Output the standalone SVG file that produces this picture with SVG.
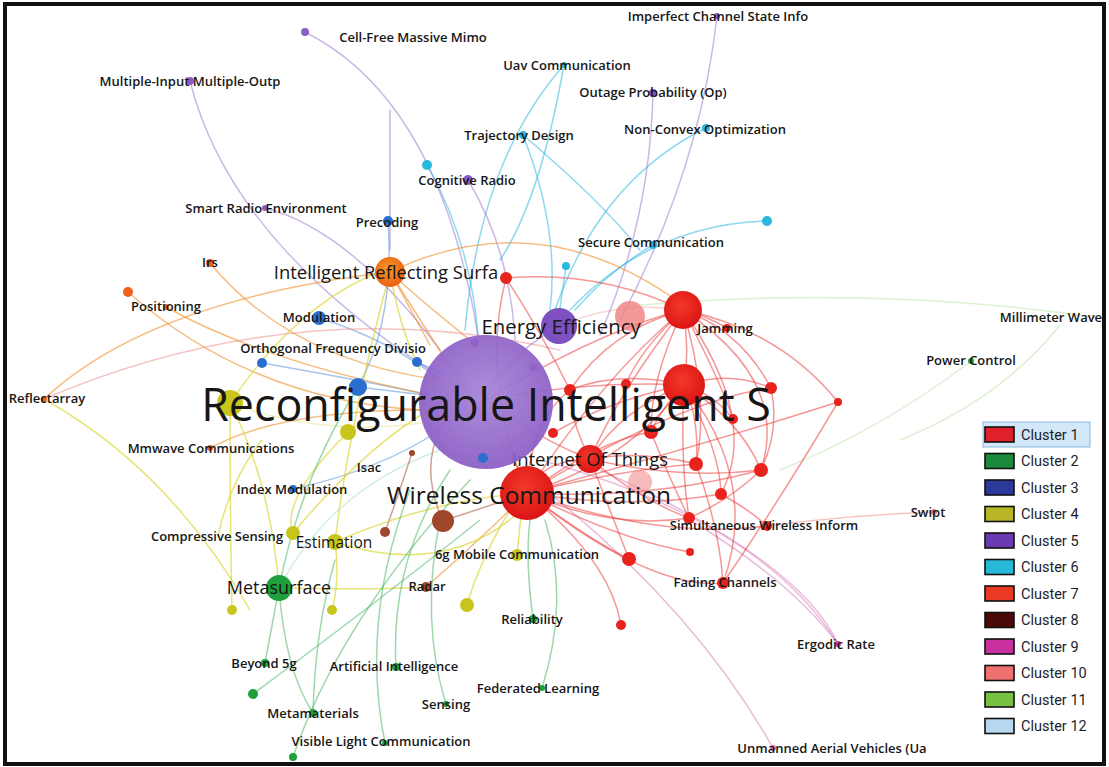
<svg xmlns="http://www.w3.org/2000/svg" width="1109" height="767" viewBox="0 0 1109 767">
  <defs>
    <radialGradient id="gPurpleBig" cx="50%" cy="45%" r="55%">
      <stop offset="0" stop-color="#a684d8"/>
      <stop offset="1" stop-color="#8a5cc4"/>
    </radialGradient>
    <radialGradient id="gOrange" cx="45%" cy="40%" r="60%">
      <stop offset="0" stop-color="#f79a2a"/>
      <stop offset="1" stop-color="#ea5e10"/>
    </radialGradient>
    <radialGradient id="gRed" cx="45%" cy="40%" r="60%">
      <stop offset="0" stop-color="#f23a2a"/>
      <stop offset="1" stop-color="#dc1414"/>
    </radialGradient>
    <style>
      text{font-family:"Open Sans","DejaVu Sans",sans-serif;fill:#161616;dominant-baseline:central;text-anchor:middle}
      .s{font-size:13px;font-weight:600}
      .lg{font-family:Roboto,"Open Sans",sans-serif;font-size:14.5px;text-anchor:start;fill:#1c1c2c}
      .c path{fill:none;stroke-width:1.5;stroke-linecap:round}
      .k1{stroke:#ec3030;opacity:.5}
      .k2{stroke:#2aa84a;opacity:.45}
      .k3{stroke:#3a7fd0;opacity:.45}
      .k4{stroke:#d6d21c;opacity:.6}
      .k5{stroke:#a07ed0;opacity:.55}
      .k6{stroke:#30b8e0;opacity:.55}
      .k7{stroke:#f0902a;opacity:.6}
      .k8{stroke:#a0442a;opacity:.5}
      .k9{stroke:#d878b8;opacity:.5}
      .k10{stroke:#f08888;opacity:.5}
      .k11{stroke:#9ed07a;opacity:.35}
      .red{fill:#e8221c}
      .grn{fill:#1ea03c}
      .blu{fill:#2a6fd0}
      .yel{fill:#c8c61c}
      .pur{fill:#8a5cc4}
      .cya{fill:#28b8e0}
      .org{fill:#f0601a}
      .brn{fill:#a0462a}
      .sw{stroke:#111;stroke-width:1.6}
    </style>
  </defs>

  <rect x="0" y="0" width="1109" height="767" fill="#ffffff"/>

  <!-- links between keywords -->
  <g id="connectors" class="c">
    <!-- wide translucent bundles -->
    <path d="M559,326 Q620,300 683,310" stroke="#f08080" stroke-width="10" opacity=".35"/>
    <path d="M230,403 Q330,440 440,420" stroke="#d8d850" stroke-width="7" opacity=".35"/>
    <path d="M279,588 Q330,490 440,450" stroke="#6cc8a0" stroke-width="6" opacity=".3"/>

    <!-- cluster 5 -->
    <path class="k5" d="M305,32 Q440,100 478,336"/>
    <path class="k5" d="M190,81 Q230,240 430,370"/>
    <path class="k5" d="M265,208 Q350,230 440,350"/>
    <path class="k5" d="M468,180 Q510,250 515,340"/>
    <path class="k5" d="M717,16 Q700,170 620,320"/>
    <path class="k5" d="M653,93 Q650,220 600,335"/>
    <path class="k5" d="M390,110 L390,250" opacity=".3"/>
    <path class="k5" d="M559,326 Q500,360 486,400"/>

    <!-- cluster 6 -->
    <path class="k6" d="M564,65 Q480,160 465,330"/>
    <path class="k6" d="M564,65 Q540,200 500,260"/>
    <path class="k6" d="M523,135 Q560,230 550,310"/>
    <path class="k6" d="M523,135 Q600,200 640,250"/>
    <path class="k6" d="M706,128 Q600,180 555,310"/>
    <path class="k6" d="M427,165 Q470,240 478,335"/>
    <path class="k6" d="M767,221 Q650,225 570,310"/>
    <path class="k6" d="M566,266 L560,308"/>
    <path class="k6" d="M653,245 Q610,270 575,310"/>

    <!-- cluster 3 -->
    <path class="k3" d="M388,221 Q395,320 358,387"/>
    <path class="k3" d="M319,318 Q390,340 440,380"/>
    <path class="k3" d="M262,363 Q360,380 430,395"/>
    <path class="k3" d="M417,362 L445,375"/>
    <path class="k3" d="M293,489 Q380,470 440,430"/>
    <path class="k3" d="M358,387 L425,395"/>

    <!-- cluster 7 -->
    <path class="k7" d="M390,272 Q540,200 683,305"/>
    <path class="k7" d="M210,263 Q290,360 440,380"/>
    <path class="k7" d="M166,307 Q260,360 430,395"/>
    <path class="k7" d="M128,292 Q250,400 420,410"/>
    <path class="k7" d="M44,399 Q150,300 390,272"/>
    <path class="k7" d="M210,448 Q280,410 425,410"/>
    <path class="k7" d="M390,272 L430,345"/>
    <path class="k7" d="M390,272 Q420,300 470,340"/>
    <path class="k7" d="M390,272 Q470,400 527,480"/>
    <path class="k7" d="M426,587 Q480,540 527,493"/>
    <path class="k10" d="M44,399 Q300,290 560,350" opacity=".35"/>

    <!-- cluster 8 -->
    <path class="k8" d="M443,521 Q420,470 440,430"/>
    <path class="k8" d="M443,521 L527,493"/>
    <path class="k8" d="M385,532 Q400,490 412,453"/>

    <!-- cluster 4 -->
    <path class="k4" d="M44,399 Q170,470 250,610"/>
    <path class="k4" d="M230,403 Q300,300 385,270"/>
    <path class="k4" d="M230,403 Q230,520 232,610"/>
    <path class="k4" d="M230,403 Q270,480 279,588"/>
    <path class="k4" d="M348,432 Q280,500 293,533"/>
    <path class="k4" d="M293,533 Q380,430 450,400"/>
    <path class="k4" d="M335,542 Q430,500 527,493"/>
    <path class="k4" d="M335,542 Q340,580 332,610"/>
    <path class="k4" d="M335,542 Q450,580 527,505"/>
    <path class="k4" d="M467,605 Q480,560 510,510"/>
    <path class="k4" d="M517,555 Q520,525 522,505"/>
    <path class="k4" d="M390,272 Q350,420 335,542"/>
    <path class="k4" d="M390,272 Q400,330 420,370"/>
    <path class="k4" d="M218,536 Q230,480 262,440"/>
    <path class="k4" d="M279,588 Q380,590 426,587"/>

    <!-- cluster 2 -->
    <path class="k2" d="M279,588 L265,663"/>
    <path class="k2" d="M279,588 Q285,670 313,713"/>
    <path class="k2" d="M253,694 Q380,600 480,520"/>
    <path class="k2" d="M396,667 Q390,560 450,470"/>
    <path class="k2" d="M446,704 Q420,620 440,520"/>
    <path class="k2" d="M542,688 Q570,600 545,520"/>
    <path class="k2" d="M533,619 Q525,560 530,520"/>
    <path class="k2" d="M385,743 Q360,620 410,490"/>
    <path class="k2" d="M293,757 Q340,620 470,480"/>
    <path class="k2" d="M313,713 Q315,630 335,560"/>
    <path class="k2" d="M279,588 Q300,480 358,387"/>

    <!-- cluster 11 -->
    <path class="k11" d="M640,305 Q880,285 1100,318"/>
    <path class="k11" d="M970,362 Q880,430 780,470"/>
    <path class="k11" d="M1060,325 Q1000,400 900,440"/>

    <!-- cluster 9 -->
    <path class="k9" d="M540,460 Q760,520 838,644"/>
    <path class="k9" d="M520,470 Q690,600 773,748"/>
    <path class="k9" d="M600,470 Q800,560 838,644"/>
    <path class="k9" d="M690,520 Q790,580 838,644"/>
    <path class="k10" d="M767,526 Q850,515 934,512"/>

    <!-- cluster 1 -->
    <path class="k1" d="M486,400 Q600,330 683,310"/>
    <path class="k1" d="M486,400 Q590,380 684,385"/>
    <path class="k1" d="M486,400 Q540,440 590,459"/>
    <path class="k1" d="M527,493 Q600,380 683,310"/>
    <path class="k1" d="M527,493 Q630,460 684,385"/>
    <path class="k1" d="M527,493 Q540,460 590,459"/>
    <path class="k1" d="M527,493 Q480,380 506,278"/>
    <path class="k1" d="M527,493 Q530,420 570,390"/>
    <path class="k1" d="M527,493 Q600,440 651,432"/>
    <path class="k1" d="M527,493 Q620,470 696,464"/>
    <path class="k1" d="M527,493 Q650,500 761,470"/>
    <path class="k1" d="M527,493 Q630,510 721,494"/>
    <path class="k1" d="M527,493 Q610,530 689,518"/>
    <path class="k1" d="M527,493 Q590,540 629,559"/>
    <path class="k1" d="M527,493 Q620,540 690,552"/>
    <path class="k1" d="M527,493 Q610,560 621,625"/>
    <path class="k1" d="M527,493 Q650,590 723,583"/>
    <path class="k1" d="M527,493 Q660,540 767,526"/>
    <path class="k1" d="M527,493 Q720,440 838,402"/>
    <path class="k1" d="M527,493 Q680,400 771,388"/>
    <path class="k1" d="M683,310 Q690,350 684,385"/>
    <path class="k1" d="M683,310 Q600,270 506,278"/>
    <path class="k1" d="M683,310 Q610,330 570,390"/>
    <path class="k1" d="M683,310 Q640,350 626,384"/>
    <path class="k1" d="M683,310 Q740,330 771,388"/>
    <path class="k1" d="M683,310 Q720,380 733,419"/>
    <path class="k1" d="M683,310 Q650,380 651,432"/>
    <path class="k1" d="M683,310 Q710,400 696,464"/>
    <path class="k1" d="M683,310 Q790,380 761,470"/>
    <path class="k1" d="M683,310 Q705,315 727,328"/>
    <path class="k1" d="M683,310 Q780,330 838,402"/>
    <path class="k1" d="M683,310 Q620,390 590,459"/>
    <path class="k1" d="M683,310 Q760,420 721,494"/>
    <path class="k1" d="M684,385 Q620,370 570,390"/>
    <path class="k1" d="M684,385 Q730,370 771,388"/>
    <path class="k1" d="M684,385 Q715,395 733,419"/>
    <path class="k1" d="M684,385 Q660,410 651,432"/>
    <path class="k1" d="M684,385 Q700,420 696,464"/>
    <path class="k1" d="M684,385 Q740,420 761,470"/>
    <path class="k1" d="M684,385 Q720,450 721,494"/>
    <path class="k1" d="M684,385 Q680,460 689,518"/>
    <path class="k1" d="M684,385 Q760,480 723,583"/>
    <path class="k1" d="M684,385 Q620,410 590,459"/>
    <path class="k1" d="M684,385 Q610,400 553,433"/>
    <path class="k1" d="M590,459 Q640,450 696,464"/>
    <path class="k1" d="M590,459 Q680,480 761,470"/>
    <path class="k1" d="M590,459 Q610,510 629,559"/>
    <path class="k1" d="M590,459 Q640,500 689,518"/>
    <path class="k1" d="M590,459 Q570,420 570,390"/>
    <path class="k1" d="M506,278 Q540,330 570,390"/>
    <path class="k1" d="M651,432 Q670,480 689,518"/>
    <path class="k1" d="M761,470 Q730,500 689,518"/>
    <path class="k1" d="M771,388 Q780,430 761,470"/>
    <path class="k1" d="M696,464 Q720,530 723,583"/>
    <path class="k1" d="M721,494 Q750,510 767,526"/>
    <path class="k1" d="M838,402 Q780,500 723,583"/>
  </g>

  <!-- keyword nodes -->
  <g id="nodes">
    <g id="n-imperfect-csi"><circle class="pur" cx="717" cy="16" r="3"/><text class="s" x="718" y="16" font-size="12">Imperfect Channel State Info</text></g>
    <g id="n-cell-free"><circle class="pur" cx="305" cy="32" r="4"/><text class="s" x="413" y="37">Cell-Free Massive Mimo</text></g>
    <g id="n-mimo"><circle class="pur" cx="190" cy="81" r="4"/><text class="s" x="190" y="81">Multiple-Input Multiple-Outp</text></g>
    <g id="n-uav-comm"><circle class="cya" cx="564" cy="65" r="3"/><text class="s" x="567" y="65">Uav Communication</text></g>
    <g id="n-outage"><circle class="pur" cx="653" cy="93" r="4"/><text class="s" x="653" y="92">Outage Probability (Op)</text></g>
    <g id="n-trajectory"><circle class="cya" cx="523" cy="135" r="4"/><text class="s" x="519" y="135">Trajectory Design</text></g>
    <g id="n-non-convex"><circle class="cya" cx="706" cy="128" r="4"/><text class="s" x="705" y="129">Non-Convex Optimization</text></g>
    <g id="n-cyan-a"><circle class="cya" cx="427" cy="165" r="5"/></g>
    <g id="n-cognitive"><circle class="pur" cx="468" cy="180" r="5"/><text class="s" x="467" y="180">Cognitive Radio</text></g>
    <g id="n-smart-radio"><circle class="pur" cx="265" cy="208" r="3"/><text class="s" x="266" y="208">Smart Radio Environment</text></g>
    <g id="n-precoding"><circle class="blu" cx="388" cy="221" r="5"/><text class="s" x="387" y="222">Precoding</text></g>
    <g id="n-cyan-b"><circle class="cya" cx="767" cy="221" r="5"/></g>
    <g id="n-secure"><circle class="cya" cx="653" cy="245" r="4"/><text class="s" x="651" y="242">Secure Communication</text></g>
    <g id="n-cyan-c"><circle class="cya" cx="566" cy="266" r="4"/></g>
    <g id="n-irs"><circle class="org" cx="210" cy="263" r="4"/><text class="s" x="210" y="262">Irs</text></g>
    <g id="n-org-a"><circle class="org" cx="128" cy="292" r="5"/></g>
    <g id="n-positioning"><circle class="org" cx="166" cy="307" r="3"/><text class="s" x="166" y="306">Positioning</text></g>
    <g id="n-modulation"><circle class="blu" cx="319" cy="318" r="7"/><text class="s" x="319" y="317">Modulation</text></g>
    <g id="n-millimeter"><text class="s" x="1051" y="317">Millimeter Wave</text></g>
    <g id="n-ofdm"><circle class="blu" cx="262" cy="363" r="5"/><circle class="blu" cx="417" cy="362" r="5"/><text class="s" x="333" y="348">Orthogonal Frequency Divisio</text></g>
    <g id="n-power-control"><circle class="grn" cx="971" cy="361" r="3"/><text class="s" x="971" y="360">Power Control</text></g>
    <g id="n-reflectarray"><circle class="org" cx="44" cy="399" r="3"/><text class="s" x="47" y="398">Reflectarray</text></g>
    <g id="n-blue-a"><circle class="blu" cx="358" cy="387" r="9"/></g>
    <g id="n-yel-a"><circle class="yel" cx="230" cy="403" r="13"/></g>
    <g id="n-yel-b"><circle class="yel" cx="348" cy="432" r="8"/></g>
    <g id="n-mmwave"><circle class="org" cx="210" cy="448" r="3"/><text class="s" x="211" y="448">Mmwave Communications</text></g>
    <g id="n-isac"><circle class="brn" cx="412" cy="453" r="3"/><text class="s" x="369" y="467">Isac</text></g>
    <g id="n-index-mod"><circle class="blu" cx="293" cy="489" r="4"/><text class="s" x="292" y="489">Index Modulation</text></g>
    <g id="n-compressive"><circle class="yel" cx="293" cy="533" r="7"/><text class="s" x="217" y="536">Compressive Sensing</text></g>
    <g id="n-brown-b"><circle class="brn" cx="385" cy="532" r="5"/></g>
    <g id="n-brown-a"><circle class="brn" cx="443" cy="521" r="11"/></g>
    <g id="n-estimation"><circle class="yel" cx="335" cy="542" r="8"/><text x="334" y="542" font-size="15.5">Estimation</text></g>
    <g id="n-yel-c"><circle class="yel" cx="232" cy="610" r="5"/></g>
    <g id="n-yel-d"><circle class="yel" cx="332" cy="610" r="5"/></g>
    <g id="n-yel-e"><circle class="yel" cx="467" cy="605" r="7"/></g>
    <g id="n-metasurface"><circle class="grn" cx="279" cy="588" r="13"/><text x="279" y="587" font-size="18">Metasurface</text></g>
    <g id="n-radar"><circle class="brn" cx="426" cy="587" r="5"/><text class="s" x="427" y="586">Radar</text></g>
    <g id="n-reliability"><circle class="grn" cx="533" cy="619" r="4"/><text class="s" x="532" y="619">Reliability</text></g>
    <g id="n-beyond-5g"><circle class="grn" cx="265" cy="663" r="4"/><text class="s" x="264" y="663">Beyond 5g</text></g>
    <g id="n-grn-a"><circle class="grn" cx="253" cy="694" r="5"/></g>
    <g id="n-ai"><circle class="grn" cx="396" cy="667" r="4"/><text class="s" x="394" y="666">Artificial Intelligence</text></g>
    <g id="n-federated"><circle class="grn" cx="542" cy="688" r="3"/><text class="s" x="538" y="688">Federated Learning</text></g>
    <g id="n-sensing"><circle class="grn" cx="446" cy="704" r="3"/><text class="s" x="446" y="704">Sensing</text></g>
    <g id="n-metamaterials"><circle class="grn" cx="313" cy="713" r="4"/><text class="s" x="313" y="713">Metamaterials</text></g>
    <g id="n-vlc"><circle class="grn" cx="385" cy="743" r="3"/><circle class="grn" cx="293" cy="757" r="4"/><text class="s" x="381" y="741">Visible Light Communication</text></g>
    <g id="n-unmanned"><circle fill="#d070b0" cx="773" cy="748" r="3"/><text class="s" x="832" y="748">Unmanned Aerial Vehicles (Ua</text></g>
    <g id="n-ergodic"><circle fill="#c83aa0" cx="838" cy="644" r="3"/><text class="s" x="836" y="644">Ergodic Rate</text></g>
    <g id="n-swipt"><circle fill="#f08080" cx="934" cy="512" r="3"/><text class="s" x="928" y="512">Swipt</text></g>

    <!-- cluster 10 -->
    <g id="n-pink-a"><circle fill="#f08080" opacity=".8" cx="630" cy="316" r="15"/></g>
    <g id="n-pink-b"><circle fill="#f09090" opacity=".6" cx="640" cy="482" r="12"/></g>

    <!-- cluster 1 -->
    <g id="n-red-a"><circle class="red" cx="506" cy="278" r="6"/></g>
    <g id="n-red-b"><circle class="red" cx="570" cy="390" r="6"/></g>
    <g id="n-red-c"><circle class="red" cx="626" cy="384" r="5"/></g>
    <g id="n-red-d"><circle class="red" cx="771" cy="388" r="6"/></g>
    <g id="n-red-e"><circle class="red" cx="733" cy="419" r="5"/></g>
    <g id="n-red-f"><circle class="red" cx="553" cy="433" r="5"/></g>
    <g id="n-red-g"><circle class="red" cx="651" cy="432" r="7"/></g>
    <g id="n-red-h"><circle class="red" cx="696" cy="464" r="7"/></g>
    <g id="n-red-i"><circle class="red" cx="761" cy="470" r="7"/></g>
    <g id="n-red-j"><circle class="red" cx="721" cy="494" r="6"/></g>
    <g id="n-red-k"><circle class="red" cx="689" cy="518" r="6"/></g>
    <g id="n-red-m"><circle class="red" cx="838" cy="402" r="4"/></g>
    <g id="n-red-n"><circle class="red" cx="629" cy="559" r="7"/></g>
    <g id="n-red-o"><circle class="red" cx="690" cy="552" r="4"/></g>
    <g id="n-red-p"><circle class="red" cx="621" cy="625" r="5"/></g>
    <g id="n-jamming"><circle class="red" cx="727" cy="328" r="4"/><text class="s" x="725" y="328">Jamming</text></g>
    <g id="n-fading"><circle class="red" cx="723" cy="583" r="6"/><text class="s" x="725" y="582" font-size="13.5">Fading Channels</text></g>
    <g id="n-swipt-long"><circle class="red" cx="767" cy="526" r="5"/><text class="s" x="764" y="525">Simultaneous Wireless Inform</text></g>
    <g id="n-red-hub-a"><circle fill="url(#gRed)" cx="683" cy="310" r="19"/></g>
    <g id="n-red-hub-b"><circle fill="url(#gRed)" cx="684" cy="385" r="21"/></g>
    <g id="n-6g"><circle class="yel" cx="517" cy="555" r="6"/><text class="s" x="517" y="554">6g Mobile Communication</text></g>
    <g id="n-iot"><circle fill="url(#gRed)" cx="590" cy="459" r="14"/><text x="590" y="458" font-size="18.5">Internet Of Things</text></g>
    <g id="n-wireless"><circle fill="url(#gRed)" cx="527" cy="493" r="27"/><text x="529" y="494" font-size="24.5">Wireless Communication</text></g>
    <g id="n-irs-full"><circle fill="url(#gOrange)" cx="390" cy="272" r="15"/><text x="386" y="271" font-size="18.4">Intelligent Reflecting Surfa</text></g>
    <g id="n-energy"><circle fill="#7e50c0" cx="559" cy="326" r="18"/><text x="561" y="326" font-size="20.4">Energy Efficiency</text></g>
    <g id="n-ris">
      <circle fill="url(#gPurpleBig)" opacity=".93" cx="486" cy="402" r="67"/>
      <circle class="pur" cx="475" cy="343" r="4" opacity=".7"/>
      <circle class="pur" cx="533" cy="367" r="4" opacity=".7"/>
      <circle class="blu" cx="483" cy="458" r="5"/>
      <text x="486" y="403" font-size="44.8">Reconfigurable Intelligent S</text>
    </g>
  </g>

  <!-- cluster legend -->
  <g id="legend">
    <rect x="983" y="422" width="107" height="25" fill="#d2e8f8" stroke="#8ab8e2" stroke-width="1"/>
    <rect class="sw" x="985" y="427" width="29" height="15" fill="#e0202a"/>
    <rect class="sw" x="985" y="453.5" width="29" height="15" fill="#1c8a3c"/>
    <rect class="sw" x="985" y="480" width="29" height="15" fill="#2b3a9a"/>
    <rect class="sw" x="985" y="506.5" width="29" height="15" fill="#b8b628"/>
    <rect class="sw" x="985" y="533" width="29" height="15" fill="#6a3ab0"/>
    <rect class="sw" x="985" y="559.5" width="29" height="15" fill="#28b8d8"/>
    <rect class="sw" x="985" y="586" width="29" height="15" fill="#e83a24"/>
    <rect class="sw" x="985" y="612.5" width="29" height="15" fill="#4a0a0a"/>
    <rect class="sw" x="985" y="639" width="29" height="15" fill="#c830a0"/>
    <rect class="sw" x="985" y="665.5" width="29" height="15" fill="#f07070"/>
    <rect class="sw" x="985" y="692" width="29" height="15" fill="#78c040"/>
    <rect class="sw" x="985" y="718.5" width="29" height="15" fill="#b8d8f0"/>
    <text class="lg" x="1021" y="435">Cluster 1</text>
    <text class="lg" x="1021" y="461.5">Cluster 2</text>
    <text class="lg" x="1021" y="488">Cluster 3</text>
    <text class="lg" x="1021" y="514.5">Cluster 4</text>
    <text class="lg" x="1021" y="541">Cluster 5</text>
    <text class="lg" x="1021" y="567.5">Cluster 6</text>
    <text class="lg" x="1021" y="594">Cluster 7</text>
    <text class="lg" x="1021" y="620.5">Cluster 8</text>
    <text class="lg" x="1021" y="647">Cluster 9</text>
    <text class="lg" x="1021" y="673.5">Cluster 10</text>
    <text class="lg" x="1021" y="700">Cluster 11</text>
    <text class="lg" x="1021" y="726.5">Cluster 12</text>
  </g>

  <!-- outer frame -->
  <rect x="5" y="4" width="1099" height="760" fill="none" stroke="#111" stroke-width="4"/>
</svg>
